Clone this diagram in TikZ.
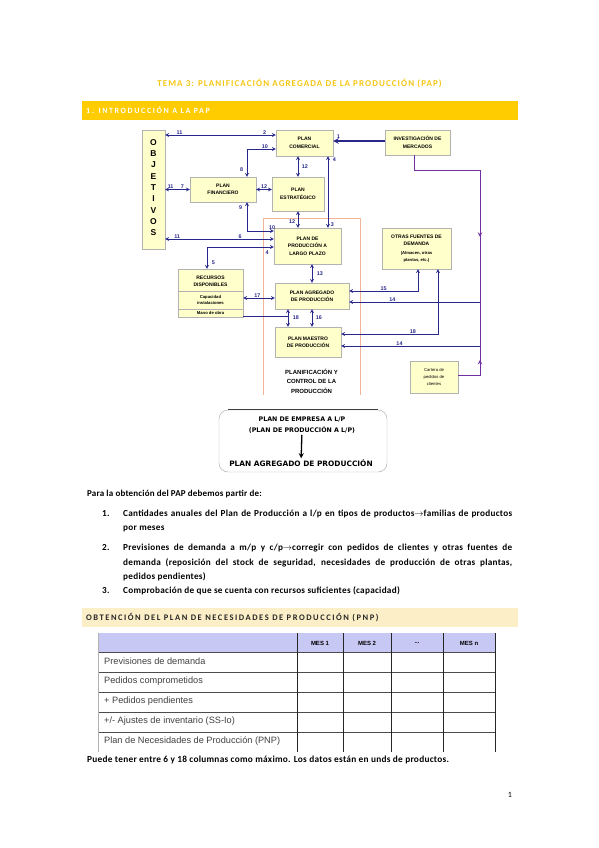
\documentclass[tikz,border=0pt]{standalone}
\usepackage{fontspec}
\setmainfont{Carlito}
\newfontfamily\arialf{Liberation Sans}
\newfontfamily\dejavuf{DejaVu Sans}
\usetikzlibrary{positioning}
\usetikzlibrary{decorations.markings}

\definecolor{titleyellow}{RGB}{246,198,20}
\definecolor{baryellow}{RGB}{255,204,0}
\definecolor{barbeige}{RGB}{252,239,200}
\definecolor{boxyellow}{RGB}{255,255,204}
\definecolor{navy}{RGB}{40,40,140}
\definecolor{mktpurple}{RGB}{112,48,160}
\definecolor{pcpsalmon}{RGB}{240,180,150}
\definecolor{lavender}{RGB}{200,200,245}

\newcommand\tinyb{\arialf\bfseries\fontsize{4.2}{6.2}\selectfont}

\begin{document}
\begin{tikzpicture}[x=1pt,y=-1pt,>=stealth,
    plan/.style={draw=black!30,fill=boxyellow,align=center,inner sep=1pt,
                 font=\arialf\bfseries\fontsize{5}{7.4}\selectfont},
    num/.style={font=\arialf\bfseries\fontsize{5.4}{6}\selectfont,inner sep=.5pt},
    link/.style={navy,line width=.7pt},
    mkt/.style={mktpurple,line width=1pt},
    body/.style={font=\bfseries\fontsize{9.2}{11}\selectfont\addfontfeature{LetterSpace=3},inner sep=0pt,anchor=west,
                 text height=1.6ex,text depth=.45ex},
    pfont/.style={font=\dejavuf\bfseries\fontsize{6.3}{7}\selectfont,inner sep=1pt}]
  \useasboundingbox (0,0) rectangle (599,848);

  % title and section bar
  \node[text=titleyellow,font=\bfseries\fontsize{9}{10}\selectfont\addfontfeature{LetterSpace=12}] (title) at (299.5,83)
    {TEMA 3: PLANIFICACIÓN AGREGADA DE LA PRODUCCIÓN (PAP)};
  \node[fill=baryellow,minimum width=436pt,minimum height=19pt,anchor=west,inner sep=0pt] (bar1) at (82,110.5) {};
  \node[anchor=west,inner sep=0pt,text=white,font=\bfseries\fontsize{8}{9}\selectfont\addfontfeature{LetterSpace=20}] (bar1T) at (86,110.5)
    {1. INTRODUCCIÓN A LA PAP};

  % planning area
  \node[minimum width=97pt,minimum height=177pt,inner sep=0pt] (pcp) at (311.5,306.5) {};
  \draw[pcpsalmon,line width=.6pt] (pcp.south west) -- (pcp.north west) -- (pcp.north east) -- (pcp.south east);
  \node[align=center,inner sep=0pt,font=\arialf\bfseries\fontsize{6}{9.6}\selectfont] (pcpT) at (311.5,381)
    {PLANIFICACIÓN Y\\CONTROL DE LA\\PRODUCCIÓN};

  % boxes
  \node[plan,minimum width=23pt,minimum height=119pt] (obj) at (153.5,189.5) {};
  \foreach \l [count=\i] in {O,B,J,E,T,I,V,O,S}
    \node[inner sep=0pt,font=\arialf\bfseries\fontsize{8.5}{9}\selectfont] (obj\i) at (153.5,131+11.3*\i) {\l};
  \node[plan,minimum width=57pt,minimum height=26pt] (com) at (304.5,143) {PLAN\\COMERCIAL};
  \node[plan,minimum width=65pt,minimum height=25pt] (inv) at (417.5,142.5) {INVESTIGACIÓN DE\\MERCADOS};
  \node[plan,minimum width=66pt,minimum height=25pt] (fin) at (223,189.5) {PLAN\\FINANCIERO};
  \node[plan,minimum width=52pt,minimum height=34pt] (est) at (298,194) {PLAN\\ESTRATÉGICO};
  \node[plan,minimum width=67pt,minimum height=36pt] (lp) at (307.5,246) {PLAN DE\\PRODUCCIÓN A\\LARGO PLAZO};
  \node[plan,minimum width=74pt,minimum height=26pt] (agr) at (312,296) {PLAN AGREGADO\\DE PRODUCCIÓN};
  \node[plan,minimum width=66pt,minimum height=30pt] (mae) at (308,342) {PLAN MAESTRO\\DE PRODUCCIÓN};
  \node[plan,minimum width=69pt,minimum height=41pt] (otr) at (416.5,248.5)
    {OTRAS FUENTES DE\\DEMANDA\\[1pt]\tinyb(Almacen, otras\\\tinyb plantas, etc.)};
  \node[plan,minimum width=48pt,minimum height=32pt,font=\arialf\fontsize{4.2}{7.4}\selectfont] (car) at (434,377)
    {Cartera de\\pedidos de\\clientes};
  \node[plan,minimum width=65pt,minimum height=48pt] (rec) at (210.5,293) {};
  \node[align=center,inner sep=0pt,font=\arialf\bfseries\fontsize{5}{7.2}\selectfont] (recT) at (210.5,281.5) {RECURSOS\\DISPONIBLES};
  \draw[black!30] (rec.west |- 0,291) -- (rec.east |- 0,291);
  \draw[black!30] (rec.west |- 0,309) -- (rec.east |- 0,309);
  \node[align=center,inner sep=0pt,font=\tinyb] (recC) at (210.5,300) {Capacidad\\instalaciones};
  \node[inner sep=0pt,font=\tinyb] (recM) at (210.5,313) {Mano de obra};

  % links
  \draw[link,line width=1.4pt,->] (inv.west |- 0,141) -- (com.east |- 0,141) node[num,pos=.9,above=1.5pt] {1};
  \draw[link,<->] (obj.east |- 0,135) -- (com.west |- 0,135)
    node[num,pos=.13,above] {11} node[num,pos=.9,above] {2};
  \draw[link,<->] (fin.north -| 247,0) |- (com.west |- 0,149)
    node[num,pos=.12,left=3pt] {8} node[num,pos=.81,above] {10};
  \draw[link,<->] (obj.east |- fin.west) -- (fin.west)
    node[num,pos=.22,above] {11} node[num,pos=.7,above] {7};
  \draw[link,<->] (fin.east) -- (fin.east -| est.west) node[num,midway,above] {12};
  \draw[link,<->] (est.north) -- (est.north |- com.south) node[num,midway,right=3pt] {12};
  \draw[link,<->] (est.south) -- (est.south |- lp.north) node[num,pos=.6,left=2pt] {12};
  \draw[link,<->] (com.south -| 328,0) -- (lp.north -| 328,0)
    node[num,pos=.05,right=4pt] {4} node[num,pos=.95,right=2pt] {3};
  \draw[link,<->] (fin.south -| 247,0) |- (lp.west |- 0,231)
    node[num,pos=.1,left=4pt] {9} node[num,pos=.97,above=1pt] {10};
  \draw[link,<->] (obj.east |- 0,239) -- (lp.west |- 0,239)
    node[num,pos=.11,above] {11} node[num,pos=.69,above] {6};
  \draw[link,<->] (lp.west |- 0,247) -| (rec.north -| 207,0)
    node[num,pos=.05,below=3pt] {4} node[num,pos=.86,right=4pt] {5};
  \draw[link,<->] (rec.east |- 0,298) -- (agr.west |- 0,298) node[num,pos=.45,above] {17};
  \draw[link,<->] (lp.south -| 312,0) -- (agr.north -| 312,0) node[num,midway,right=4pt] {13};
  \draw[link,<->] (agr.south -| 288,0) -- (mae.north -| 288,0) node[num,midway,right=4pt] {18};
  \draw[link,<->] (agr.south -| 312,0) -- (mae.north -| 312,0) node[num,midway,right=3pt] {16};
  \coordinate (j18) at (288,316);
  \draw[link] (rec.east |- j18) -- (j18);
  \draw[link,<->] (otr.south -| 418,0) |- (agr.east |- 0,291) node[num,pos=.75,above] {15};
  \draw[link,<->] (otr.south -| 438,0) |- (mae.east |- 0,334) node[num,pos=.63,above] {18};
  \coordinate (m14) at (480,302);
  \coordinate (c14) at (480,346);
  \draw[link,->] (m14) -- (m14 -| agr.east) node[num,pos=.67,above] {14};
  \draw[link,->] (c14) -- (c14 -| mae.east) node[num,pos=.58,above] {14};
  \coordinate (pa) at (480,170);
  \coordinate (pb) at (480,375);
  \draw[mkt,postaction={decorate},decoration={markings,
      mark=at position .48 with {\arrow{stealth}},
      mark=at position .88 with {\arrowreversed{stealth}}}]
    (inv.south -| 414,0) |- (pa) -- (pb) -- (pb -| car.east);

  % long term plan box
  \node[draw=black!35,rounded corners=9pt,minimum width=168pt,minimum height=62pt] (pe) at (303,441) {};
  \draw[black!75,line width=.9pt] ([xshift=9pt]pe.north west) -- ([xshift=-9pt]pe.north east);
  \node[pfont] (pe1) at (302,419) {PLAN DE EMPRESA A L/P};
  \node[pfont,below=3pt of pe1] (pe2) {(PLAN DE PRODUCCIÓN A L/P)};
  \node[pfont,font=\dejavuf\bfseries\fontsize{7.4}{8}\selectfont] (pap) at (301,463) {PLAN AGREGADO DE PRODUCCIÓN};
  \draw[->,line width=1.3pt] (pe2) -- (pap);

  % text
  \node[body,font=\bfseries\fontsize{9}{11}\selectfont\addfontfeature{LetterSpace=2}] (intro) at (87,494) {Para la obtención del PAP debemos partir de:};
  \node[body] (n1) at (102,514) {1.};
  \node[body] (i1a) at (123,514) {\makebox[389pt][s]{Cantidades anuales del Plan de Producción a l/p en tipos de productos$\rightarrow$familias de productos}};
  \node[body] (i1b) at (123,528) {por meses};
  \node[body] (n2) at (102,548) {2.};
  \node[body] (i2a) at (123,548) {\makebox[389pt][s]{Previsiones de demanda a m/p y c/p$\rightarrow$corregir con pedidos de clientes y otras fuentes de}};
  \node[body] (i2b) at (123,563) {\makebox[389pt][s]{demanda (reposición del stock de seguridad, necesidades de producción de otras plantas,}};
  \node[body] (i2c) at (123,577) {pedidos pendientes)};
  \node[body] (n3) at (102,591) {3.};
  \node[body] (i3a) at (123,591) {Comprobación de que se cuenta con recursos suficientes (capacidad)};

  % table
  \node[fill=barbeige,minimum width=436pt,minimum height=19pt,anchor=west,inner sep=0pt] (bar2) at (82,617.5) {};
  \node[anchor=west,inner sep=0pt,text=black!85,font=\bfseries\fontsize{8.5}{9}\selectfont\addfontfeature{LetterSpace=18}] (bar2T) at (86,617.5)
    {OBTENCIÓN DEL PLAN DE NECESIDADES DE PRODUCCIÓN (PNP)};
  \fill[lavender] (98,633) rectangle (495,652);
  \foreach \y in {652,672,692,712,732}
    \draw[black!70,line width=.5pt] (98,\y) -- (495,\y);
  \foreach \x in {297,343,391,443,495}
    \draw[black!85,line width=.7pt] (\x,633) -- (\x,752);
  \draw[black!30,line width=.4pt] (98,633) -- (98,752);
  \node[font=\arialf\bfseries\fontsize{6}{7}\selectfont] (m1) at (320,643) {MES 1};
  \node[font=\arialf\bfseries\fontsize{6}{7}\selectfont] (m2) at (367,643) {MES 2};
  \node[font=\arialf\bfseries\fontsize{6}{7}\selectfont] (m3) at (417,643) {...};
  \node[font=\arialf\bfseries\fontsize{6}{7}\selectfont] (m4) at (469,643) {MES n};
  \foreach \t [count=\i] in {Previsiones de demanda,Pedidos comprometidos,+ Pedidos pendientes,
      +/- Ajustes de inventario (SS-Io),Plan de Necesidades de Producción (PNP)}
    \node[anchor=west,inner sep=0pt,text=black!75,font=\arialf\fontsize{9.2}{10}\selectfont] (r\i) at (104,641+20*\i) {\t};
  \node[body,font=\bfseries\fontsize{9.3}{11}\selectfont\addfontfeature{LetterSpace=3}] (note) at (87,760) {Puede tener entre 6 y 18 columnas como máximo. Los datos están en unds de productos.};
  \node[font=\fontsize{8}{9}\selectfont] (page) at (510,795) {1};
\end{tikzpicture}
\end{document}
